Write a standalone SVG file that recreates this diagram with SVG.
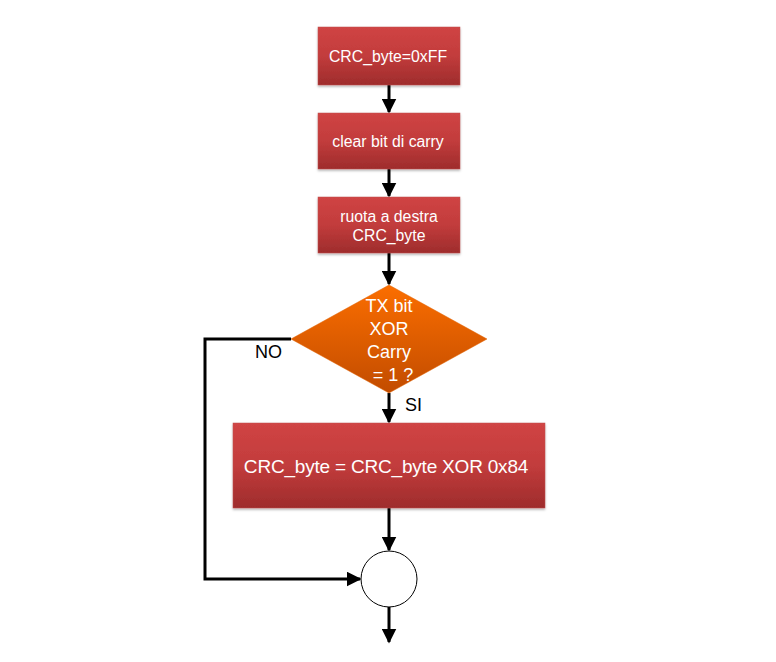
<svg xmlns="http://www.w3.org/2000/svg" width="776" height="662" viewBox="0 0 776 662">
<style>
.box{fill:url(#red);stroke:#c0504d;stroke-width:0.5;filter:url(#sh)}
.t{font-family:"Liberation Sans",Arial,sans-serif;fill:#fff;text-anchor:middle}
.lbl{font-family:"Liberation Sans",Arial,sans-serif;fill:#000;font-size:18px}
.c{stroke:#000;stroke-width:3;fill:none}
</style>
<defs>
<linearGradient id="red" x1="0" y1="0" x2="0" y2="1">
<stop offset="0" stop-color="#d04444"/><stop offset="0.5" stop-color="#c23c3c"/><stop offset="1" stop-color="#9e2c2c"/>
</linearGradient>
<linearGradient id="org" x1="0" y1="0" x2="0" y2="1">
<stop offset="0" stop-color="#fb6e00"/><stop offset="1" stop-color="#c24c00"/>
</linearGradient>
<filter id="sh" x="-10%" y="-10%" width="120%" height="130%">
<feDropShadow dx="0" dy="1.5" stdDeviation="1" flood-color="#000" flood-opacity="0.3"/>
</filter>
<marker id="ah" markerWidth="5" markerHeight="5" refX="4.5" refY="2.5" orient="auto" markerUnits="strokeWidth">
<path d="M0,0 L5,2.5 L0,5 z" fill="#000"/>
</marker>
</defs>
<g id="connectors">
<line class="c" x1="389" y1="85" x2="389" y2="112" marker-end="url(#ah)"/>
<line class="c" x1="389" y1="169" x2="389" y2="196" marker-end="url(#ah)"/>
<line class="c" x1="389" y1="253" x2="389" y2="284" marker-end="url(#ah)"/>
<line class="c" x1="389" y1="393" x2="389" y2="422" marker-end="url(#ah)"/>
<line class="c" x1="389" y1="508" x2="389" y2="550" marker-end="url(#ah)"/>
<polyline class="c" points="291,339 205,339 205,579 360,579" marker-end="url(#ah)"/>
<line class="c" x1="389" y1="607" x2="389" y2="642" marker-end="url(#ah)"/>
<text class="lbl" x="255" y="358">NO</text>
<text class="lbl" x="405" y="411">SI</text>
</g>
<g id="n1">
<rect class="box" x="318" y="27" width="142" height="58"/>
<text class="t" x="388" y="62" font-size="15.8">CRC_byte=0xFF</text>
</g>
<g id="n2">
<rect class="box" x="318" y="113" width="142" height="56"/>
<text class="t" x="388" y="147" font-size="15.8">clear bit di carry</text>
</g>
<g id="n3">
<rect class="box" x="318" y="197" width="142" height="56"/>
<text class="t" x="389" y="222" font-size="15.8">ruota a destra</text>
<text class="t" x="389" y="241" font-size="15.8">CRC_byte</text>
</g>
<g id="n4">
<polygon points="389,285 487,339 389,393 291,339" fill="url(#org)" stroke="#e06000" stroke-width="0.5"/>
<text class="t" x="389" y="312" font-size="18">TX bit</text>
<text class="t" x="389" y="335" font-size="18">XOR</text>
<text class="t" x="389" y="358" font-size="18">Carry</text>
<text class="t" x="393" y="381" font-size="18">= 1 ?</text>
</g>
<g id="n5">
<rect class="box" x="233" y="423" width="312" height="85"/>
<text class="t" x="386" y="473" font-size="19" letter-spacing="-0.2">CRC_byte = CRC_byte XOR 0x84</text>
</g>
<g id="n6">
<circle cx="389" cy="579" r="28" fill="#fff" stroke="#000" stroke-width="1"/>
</g>
</svg>
